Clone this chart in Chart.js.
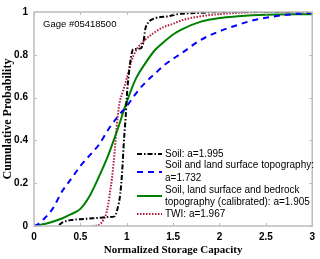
<!DOCTYPE html>
<html>
<head>
<meta charset="utf-8">
<script src="https://cdn.jsdelivr.net/npm/chart.js@4"></script>
<style>
  html, body { margin: 0; padding: 0; background: #fff; }
  #wrap { width: 320px; height: 259px; }
</style>
</head>
<body>
<div id="wrap"><canvas id="cdf-chart"></canvas></div>
<script>
// values
const soilX = [0.27, 0.3, 0.4, 0.5, 0.6, 0.7, 0.8, 0.87, 0.9, 0.93, 0.95, 0.97, 0.99, 1.0, 1.02, 1.05, 1.07, 1.15, 1.18, 1.2, 1.23, 1.3, 1.45, 1.55, 1.75, 2.0, 3.0];
const soilP = [0.005, 0.015, 0.028, 0.032, 0.035, 0.038, 0.042, 0.045, 0.08, 0.15, 0.25, 0.4, 0.52, 0.6, 0.7, 0.8, 0.825, 0.83, 0.86, 0.92, 0.95, 0.97, 0.98, 0.99, 0.995, 1.0, 1.0];

const topoX = [0, 0.05, 0.1, 0.2, 0.3, 0.4, 0.5, 0.6, 0.7, 0.8, 0.9, 1.0, 1.1, 1.2, 1.3, 1.4, 1.6, 1.8, 2.0, 2.2, 2.4, 2.6, 2.8, 3.0];
const topoP = [0, 0.01, 0.03, 0.08, 0.16, 0.22, 0.28, 0.33, 0.38, 0.45, 0.51, 0.56, 0.62, 0.67, 0.71, 0.75, 0.81, 0.87, 0.91, 0.94, 0.965, 0.98, 0.99, 0.995];

const bedX = [0, 0.1, 0.2, 0.3, 0.4, 0.5, 0.6, 0.7, 0.8, 0.9, 1.0, 1.1, 1.2, 1.3, 1.4, 1.5, 1.6, 1.8, 2.0, 2.2, 2.5, 3.0];
const bedP = [0, 0.008, 0.02, 0.035, 0.055, 0.08, 0.14, 0.23, 0.33, 0.45, 0.58, 0.69, 0.76, 0.82, 0.86, 0.895, 0.92, 0.955, 0.972, 0.98, 0.987, 0.99];

const twiX = [0.63, 0.7, 0.75, 0.78, 0.8, 0.82, 0.84, 0.87, 0.89, 0.92, 0.96, 1.0, 1.05, 1.1, 1.2, 1.3, 1.4, 1.5, 1.6, 1.8, 2.0, 2.2, 2.5, 2.8];
const twiP = [0, 0.005, 0.03, 0.06, 0.1, 0.16, 0.22, 0.35, 0.46, 0.57, 0.63, 0.69, 0.77, 0.82, 0.87, 0.905, 0.93, 0.945, 0.962, 0.98, 0.99, 0.996, 1.0, 1.0];

const seriesLabels = [
  ["Soil: a=1.995"],
  ["Soil and land surface topography:", "a=1.732"],
  ["Soil, land surface and bedrock", "topography (calibrated): a=1.905"],
  ["TWI: a=1.967"],
];
const gageLabel = "Gage #05418500";
const xTitle = "Normalized Storage Capacity";
const yTitle = "Cumulative Probability";

const toPoints = (xs, ys) => xs.map((x, i) => ({ x: x, y: ys[i] }));
const tickText = (v) => String(Number(v.toFixed(2)));

const styles = [
  { color: "#000000", dash: [5, 2, 1.5, 2] },
  { color: "#0000ff", dash: [6, 5] },
  { color: "#008000", dash: [] },
  { color: "#b01c3c", dash: [1.5, 1.5] },
];

const frameColor = "#bdbdbd";

// box round the plot with inward tick marks (matlab style), gage text, legend
const boxPlugin = {
  id: "box",
  afterDatasetsDraw(chart) {
    const ctx = chart.ctx;
    const a = chart.chartArea;
    const xs = chart.scales.x;
    const ys = chart.scales.y;
    ctx.save();
    ctx.strokeStyle = frameColor;
    ctx.lineWidth = 1.5;
    ctx.strokeRect(a.left, a.top, a.right - a.left, a.bottom - a.top);
    ctx.lineWidth = 1;
    ctx.beginPath();
    xs.ticks.forEach((t) => {
      const px = Math.round(xs.getPixelForValue(t.value)) + 0.5;
      ctx.moveTo(px, a.bottom);
      ctx.lineTo(px, a.bottom - 3);
      ctx.moveTo(px, a.top);
      ctx.lineTo(px, a.top + 3);
    });
    ys.ticks.forEach((t) => {
      const py = Math.round(ys.getPixelForValue(t.value)) + 0.5;
      ctx.moveTo(a.left, py);
      ctx.lineTo(a.left + 3, py);
      ctx.moveTo(a.right, py);
      ctx.lineTo(a.right - 3, py);
    });
    ctx.stroke();

    ctx.fillStyle = "#000";
    ctx.font = "9.5px 'Liberation Sans', Arial, sans-serif";
    ctx.textBaseline = "middle";
    ctx.textAlign = "left";
    ctx.fillText(gageLabel, 43, 24);

    // legend
    ctx.font = "10px 'Liberation Sans', Arial, sans-serif";
    const lineY = [154, 172, 196, 214];
    const textY = [[154], [165, 178], [190, 202], [214]];
    ctx.lineWidth = 2;
    seriesLabels.forEach((lines, i) => {
      ctx.strokeStyle = styles[i].color;
      ctx.setLineDash(styles[i].dash);
      ctx.beginPath();
      ctx.moveTo(137, lineY[i]);
      ctx.lineTo(162, lineY[i]);
      ctx.stroke();
      ctx.setLineDash([]);
      lines.forEach((txt, j) => ctx.fillText(txt, 165, textY[i][j]));
    });
    ctx.restore();
  },
};

const makeSet = (label, xs, ys, i) => ({
  label: label,
  data: toPoints(xs, ys),
  borderColor: styles[i].color,
  borderDash: styles[i].dash,
  borderWidth: 2,
  pointRadius: 0,
  cubicInterpolationMode: "monotone",
  fill: false,
});

new Chart(document.getElementById("cdf-chart").getContext("2d"), {
  type: "line",
  data: {
    datasets: [
      makeSet(seriesLabels[0].join(" "), soilX, soilP, 0),
      makeSet(seriesLabels[1].join(" "), topoX, topoP, 1),
      makeSet(seriesLabels[2].join(" "), bedX, bedP, 2),
      makeSet(seriesLabels[3].join(" "), twiX, twiP, 3),
    ],
  },
  options: {
    responsive: true,
    maintainAspectRatio: false,
    animation: false,
    layout: { padding: { top: 6, right: 7, left: 0, bottom: 0 } },
    plugins: {
      legend: { display: false },
      tooltip: { enabled: false },
    },
    scales: {
      x: {
        type: "linear",
        min: 0,
        max: 3,
        afterFit: (s) => { s.height = 33; },
        grid: { display: false, drawTicks: false },
        border: { display: false },
        ticks: {
          stepSize: 0.5,
          padding: 5,
          color: "#000",
          maxRotation: 0,
          callback: tickText,
          font: { family: "'Liberation Sans', Arial, sans-serif", size: 10, weight: "bold" },
        },
        title: {
          display: true,
          text: xTitle,
          color: "#000",
          padding: { top: 0, bottom: 2.5 },
          font: { family: "'Liberation Serif', 'Times New Roman', serif", size: 11, weight: "bold" },
        },
      },
      y: {
        min: 0,
        max: 1,
        afterFit: (s) => { s.width = 34; },
        grid: { display: false, drawTicks: false },
        border: { display: false },
        ticks: {
          stepSize: 0.2,
          padding: 6,
          color: "#000",
          callback: tickText,
          font: { family: "'Liberation Sans', Arial, sans-serif", size: 10, weight: "bold" },
        },
        title: {
          display: true,
          text: yTitle,
          color: "#000",
          padding: { top: 1, bottom: 0 },
          font: { family: "'Liberation Serif', 'Times New Roman', serif", size: 12, weight: "bold" },
        },
      },
    },
  },
  plugins: [boxPlugin],
});
</script>
</body>
</html>
